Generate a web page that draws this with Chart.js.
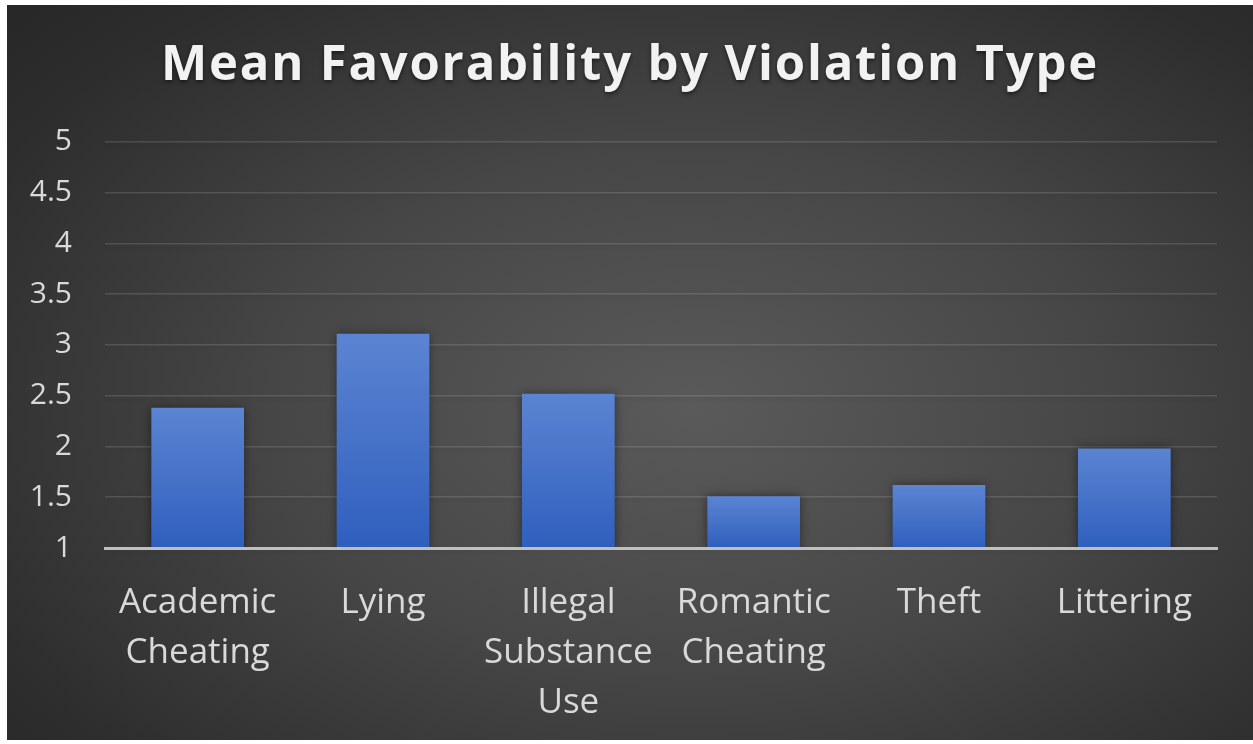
<!DOCTYPE html>
<html>
<head>
<meta charset="utf-8">
<script src="https://cdn.jsdelivr.net/npm/chart.js@4.4.0/dist/chart.umd.min.js"></script>
<style>
  html, body { margin: 0; padding: 0; background: #ffffff; }
  #wrap {
    position: absolute; left: 7px; top: 5px; width: 1246px; height: 735px;
    background: radial-gradient(ellipse 75% 80% at 55% 55%, #5a5a5a 0%, #464646 45%, #2d2d2d 85%, #272727 100%);
  }
</style>
</head>
<body>
<div id="wrap"><canvas id="myChart"></canvas></div>
<script>
// data
var categories = [["Academic", "Cheating"], "Lying", ["Illegal", "Substance", "Use"], ["Romantic", "Cheating"], "Theft", "Littering"];
var meanFavorability = [2.38, 3.11, 2.52, 1.51, 1.62, 1.98];
var yTickValues = [1, 1.5, 2, 2.5, 3, 3.5, 4, 4.5, 5];
var chartTitle = "Mean Favorability by Violation Type";

// each bar gets its own top-to-bottom gradient
function barFill(context) {
    var chart = context.chart;
    var yScale = chart.scales.y;
    if (!chart.chartArea || !yScale) return "#4472c4";
    var top = yScale.getPixelForValue(context.raw);
    var bottom = yScale.getPixelForValue(1);
    var g = chart.ctx.createLinearGradient(0, top, 0, bottom);
    g.addColorStop(0, "#5b84d2");
    g.addColorStop(0.5, "#4672c8");
    g.addColorStop(1, "#2f5fbe");
    return g;
}

// title is drawn in the z=0 layer, tick labels are moved to z=1,
// so the spacing set here only reaches the title
var titleStyle = {
    id: "titleStyle",
    beforeDraw: function(chart) {
        chart.ctx.save();
        chart.ctx.letterSpacing = "1.8px";
        chart.ctx.shadowColor = "rgba(0,0,0,0.55)";
        chart.ctx.shadowBlur = 4;
        chart.ctx.shadowOffsetY = 2;
    },
    beforeDatasetsDraw: function(chart) {
        chart.ctx.restore();
        // soft shadow behind the bars
        chart.ctx.save();
        chart.ctx.shadowColor = "rgba(0,0,0,0.45)";
        chart.ctx.shadowBlur = 9;
    },
    afterDatasetsDraw: function(chart) {
        chart.ctx.restore();
    }
};

var ctx = document.getElementById("myChart").getContext("2d");
var myChart = new Chart(ctx, {
    type: "bar",
    data: {
        labels: categories,
        datasets: [{
            label: "Mean Favorability",
            data: meanFavorability,
            backgroundColor: barFill,
            borderWidth: 0,
            barPercentage: 1,
            categoryPercentage: 0.5
        }]
    },
    options: {
        responsive: true,
        maintainAspectRatio: false,
        animation: false,
        layout: { padding: { left: 23, right: 23, top: 0, bottom: 7 } },
        plugins: {
            legend: { display: false },
            tooltip: { enabled: false },
            title: {
                display: true,
                text: chartTitle,
                color: "#f2f2f2",
                font: { family: "'Open Sans'", size: 49, weight: "bold", lineHeight: 1.2 },
                padding: { top: 32, bottom: 46 }
            }
        },
        scales: {
            x: {
                grid: { display: false, drawTicks: false },
                border: { display: true, color: "#c0c0c0", width: 3, z: 1 },
                afterFit: function(axis) { axis.height = 185; },
                ticks: {
                    z: 1,
                    color: "#d9d9d9",
                    padding: 30,
                    maxRotation: 0,
                    autoSkip: false,
                    font: { family: "'Open Sans'", size: 35, lineHeight: 1.43 }
                }
            },
            y: {
                min: 1,
                max: 5,
                afterBuildTicks: function(axis) {
                    axis.ticks = yTickValues.map(function(v) { return { value: v }; });
                },
                afterFit: function(axis) { axis.width = 75; },
                grid: { color: "rgba(255,255,255,0.13)", lineWidth: 1.5, drawTicks: false, z: -1 },
                border: { display: false },
                ticks: {
                    z: 1,
                    color: "#d9d9d9",
                    padding: 33,
                    font: { family: "'Open Sans'", size: 30 },
                    callback: function(value) { return String(value); }
                }
            },
            // empty spacer on the right so the title stays centred
            yRight: {
                type: "linear",
                position: "right",
                min: 1,
                max: 5,
                grid: { display: false, drawTicks: false },
                border: { display: false },
                ticks: { display: false },
                afterFit: function(axis) { axis.width = 13; }
            }
        }
    },
    plugins: [titleStyle]
});
</script>
</body>
</html>
